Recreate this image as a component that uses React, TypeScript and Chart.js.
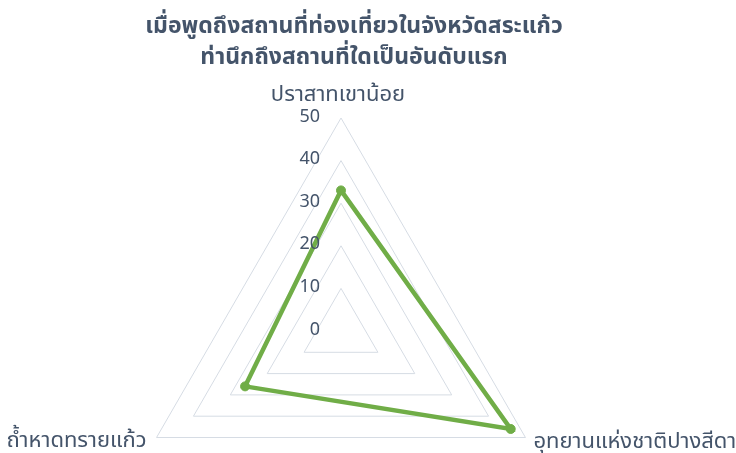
import React, { useEffect, useRef } from "react";
import { Chart, registerables } from "chart.js";

Chart.register(...registerables);

const titleLines = ["เมื่อพูดถึงสถานที่ท่องเที่ยวในจังหวัดสระแก้ว", "ท่านึกถึงสถานที่ใดเป็นอันดับแรก"];
const categories = ["ปราสาทเขาน้อย", "อุทยานแห่งชาติปางสีดา", "ถ้ำหาดทรายแก้ว"];
const values = [33, 46, 26];
const tickValues = [0, 10, 20, 30, 40, 50];

const TEXT = "#44546A";
const FONT = "Tahoma, 'Noto Sans Thai', 'Leelawadee UI', 'Noto Sans', sans-serif";

const overlay = {
  id: "overlay",
  afterDraw(chart: any) {
    const ctx = chart.ctx;
    const scale = chart.scales.r;
    ctx.save();
    // title
    ctx.fillStyle = TEXT;
    ctx.font = `bold 23px ${FONT}`;
    ctx.textAlign = "center";
    ctx.textBaseline = "middle";
    titleLines.forEach((t, i) => ctx.fillText(t, 354, 28 + i * 31));
    // tick labels
    ctx.font = `18px ${FONT}`;
    ctx.textAlign = "right";
    tickValues.forEach((v) => {
      const p = scale.getPointPositionForValue(0, v);
      ctx.fillText(String(v), p.x - 21, p.y);
    });
    // point labels
    ctx.font = `22px ${FONT}`;
    categories.forEach((c, i) => {
      const p = scale.getPointPosition(i, scale.drawingArea + 8);
      if (i === 0) {
        ctx.textAlign = "center";
        ctx.textBaseline = "middle";
        ctx.fillText(c, p.x - 3, p.y - 13);
      } else if (i === 1) {
        ctx.textAlign = "left";
        ctx.textBaseline = "middle";
        ctx.fillText(c, p.x + 1, p.y + 2);
      } else {
        ctx.textAlign = "right";
        ctx.textBaseline = "middle";
        ctx.fillText(c, p.x - 3, p.y + 1);
      }
    });
    ctx.restore();
  },
};

export default function App() {
  const ref = useRef<HTMLCanvasElement>(null);
  useEffect(() => {
    document.body.style.margin = "0";
    const chart = new Chart(ref.current!, {
      type: "radar",
      data: {
        labels: categories,
        datasets: [
          {
            data: values,
            borderColor: "#70AD47",
            backgroundColor: "#70AD47",
            borderWidth: 4.5,
            pointRadius: 4.5,
            pointBorderWidth: 1,
            pointBackgroundColor: "#70AD47",
            pointBorderColor: "#70AD47",
            fill: false,
          },
        ],
      },
      options: {
        responsive: false,
        animation: false,
        layout: { padding: { top: 118, left: 0, right: 54, bottom: 0 } },
        plugins: { legend: { display: false }, title: { display: false }, tooltip: { enabled: false } },
        scales: {
          r: {
            min: 0,
            max: 50,
            ticks: { display: false, stepSize: 10 },
            grid: { color: "#D6DCE4", lineWidth: 1 },
            angleLines: { display: false },
            pointLabels: { display: false },
          },
        },
      },
      plugins: [overlay],
    });
    return () => chart.destroy();
  }, []);
  return (
    <div style={{ width: 736, height: 453, overflow: "hidden", position: "relative" }}>
      <canvas ref={ref} width={736} height={544} style={{ display: "block" }} />
    </div>
  );
}
